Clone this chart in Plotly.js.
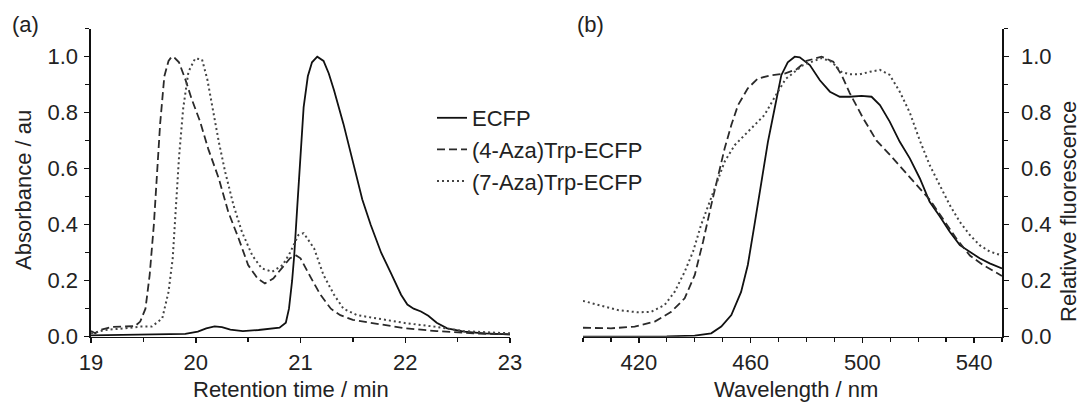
<!DOCTYPE html>
<html>
<head>
<meta charset="utf-8">
<script src="https://cdn.plot.ly/plotly-3.0.1.min.js"></script>
<style>html,body{margin:0;padding:0;background:#fff;}#chart{width:1084px;height:406px;}</style>
</head>
<body>
<div id="chart"></div>
<script>
// ---- Panel (a): retention time (min) vs absorbance ----
const ecfpTime = [19.0, 19.3, 19.6, 19.9, 20.02, 20.1, 20.18, 20.25, 20.33, 20.45, 20.6, 20.72, 20.8, 20.86, 20.89, 20.92, 20.94, 20.97, 21.0, 21.03, 21.07, 21.11, 21.16, 21.22, 21.27, 21.32, 21.41, 21.51, 21.59, 21.67, 21.77, 21.86, 21.96, 22.02, 22.08, 22.15, 22.22, 22.3, 22.4, 22.56, 22.75, 23.0];
const ecfpAbs  = [0.005, 0.006, 0.007, 0.01, 0.018, 0.03, 0.037, 0.034, 0.025, 0.02, 0.024, 0.028, 0.032, 0.05, 0.1, 0.2, 0.29, 0.47, 0.66, 0.82, 0.93, 0.98, 1.0, 0.985, 0.94, 0.88, 0.76, 0.61, 0.49, 0.40, 0.30, 0.23, 0.15, 0.115, 0.1, 0.09, 0.075, 0.05, 0.03, 0.018, 0.012, 0.008];

const aza4Time = [19.0, 19.04, 19.1, 19.2, 19.3, 19.42, 19.47, 19.52, 19.56, 19.6, 19.63, 19.66, 19.7, 19.74, 19.77, 19.8, 19.84, 19.9, 19.96, 20.04, 20.12, 20.22, 20.31, 20.41, 20.5, 20.59, 20.66, 20.74, 20.82, 20.9, 20.96, 21.0, 21.1, 21.19, 21.29, 21.38, 21.5, 21.7, 22.0, 22.3, 22.65, 23.0];
const aza4Abs  = [0.02, 0.012, 0.025, 0.035, 0.036, 0.038, 0.054, 0.1, 0.22, 0.4, 0.58, 0.76, 0.93, 0.985, 1.0, 0.995, 0.98, 0.92, 0.85, 0.77, 0.67, 0.565, 0.446, 0.35, 0.256, 0.208, 0.19, 0.208, 0.244, 0.28, 0.29, 0.28, 0.21, 0.15, 0.1, 0.077, 0.06, 0.048, 0.03, 0.02, 0.012, 0.008];

const aza7Time = [19.0, 19.13, 19.33, 19.47, 19.58, 19.68, 19.74, 19.78, 19.81, 19.84, 19.88, 19.93, 19.995, 20.06, 20.11, 20.16, 20.22, 20.28, 20.36, 20.44, 20.54, 20.63, 20.73, 20.83, 20.9, 20.98, 21.03, 21.13, 21.22, 21.32, 21.41, 21.54, 21.73, 22.01, 22.28, 22.56, 22.82, 23.0];
const aza7Abs  = [0.012, 0.024, 0.03, 0.036, 0.036, 0.065, 0.16, 0.28, 0.46, 0.64, 0.815, 0.946, 0.994, 0.99, 0.92, 0.815, 0.696, 0.59, 0.47, 0.375, 0.29, 0.244, 0.232, 0.256, 0.3, 0.363, 0.37, 0.315, 0.22, 0.15, 0.1, 0.077, 0.065, 0.048, 0.036, 0.02, 0.015, 0.012];

// ---- Panel (b): wavelength (nm) vs relative fluorescence ----
const ecfpNm  = [400, 410, 420, 430, 440, 445.9, 449.5, 453.1, 456.6, 459, 461.4, 463.8, 466.2, 468.6, 471, 473.3, 475.8, 477.6, 481.2, 484.8, 488.4, 491.9, 495.5, 499.7, 503.3, 506.3, 509.8, 513.4, 517, 520.6, 524.1, 527.7, 531.3, 534.9, 538.5, 542, 545.6, 550];
const ecfpFl  = [0, 0, 0, 0.001, 0.004, 0.012, 0.036, 0.077, 0.16, 0.256, 0.4, 0.54, 0.696, 0.815, 0.934, 0.98, 1.0, 0.998, 0.97, 0.916, 0.875, 0.857, 0.857, 0.86, 0.857, 0.827, 0.768, 0.696, 0.637, 0.565, 0.482, 0.43, 0.375, 0.327, 0.304, 0.28, 0.262, 0.244];

const aza4Nm  = [400, 410, 418.5, 425.7, 431.6, 436.4, 440, 443, 445.9, 448.3, 450.7, 453.1, 455.5, 459, 462.6, 467.4, 472.2, 476.5, 480, 485.4, 489.6, 492.6, 495.5, 500.3, 505.1, 509.8, 514.6, 519.4, 524.1, 528.9, 533.7, 538.5, 543.2, 550];
const aza4Fl  = [0.032, 0.03, 0.036, 0.054, 0.089, 0.137, 0.22, 0.34, 0.47, 0.577, 0.672, 0.756, 0.827, 0.887, 0.922, 0.934, 0.94, 0.955, 0.985, 1.0, 0.982, 0.934, 0.87, 0.78, 0.7, 0.65, 0.595, 0.54, 0.49, 0.42, 0.35, 0.29, 0.256, 0.217];

const aza7Nm  = [400, 405.4, 412.5, 419.7, 424.4, 429.2, 432.8, 436.4, 439.4, 442.3, 445.3, 447.7, 450.7, 454.3, 457.9, 461.4, 465, 468.3, 472.5, 478.8, 485.4, 489, 492.5, 495.5, 499.1, 502.7, 506.3, 509.8, 513.4, 517, 520.6, 524.1, 527.7, 531.3, 534.9, 538.5, 542, 545.6, 550];
const aza7Fl  = [0.128, 0.113, 0.095, 0.087, 0.089, 0.113, 0.16, 0.232, 0.304, 0.4, 0.482, 0.541, 0.625, 0.684, 0.72, 0.756, 0.792, 0.85, 0.92, 0.97, 0.995, 0.982, 0.946, 0.937, 0.937, 0.946, 0.953, 0.935, 0.875, 0.8, 0.7, 0.613, 0.542, 0.47, 0.41, 0.363, 0.327, 0.304, 0.29];

const seriesNames = ["ECFP", "(4-Aza)Trp-ECFP", "(7-Aza)Trp-ECFP"];
const xTitleA = "Retention time / min";
const yTitleA = "Absorbance / au";
const xTitleB = "Wavelength / nm";
const yTitleB = "Relativve fluorescence";

const W = 1084, H = 406;
const FONT = "Liberation Sans, Arial, Helvetica, sans-serif";
const TXT = "#222";

const styles = [
  {color: "#111", width: 1.8, dash: "solid"},
  {color: "#2a2a2a", width: 1.8, dash: "8px,4px"},
  {color: "#444", width: 2.0, dash: "2px,3px"}
];

const traces = [
  {x: ecfpTime, y: ecfpAbs, name: seriesNames[0], legendgroup: "g1", xaxis: "x", yaxis: "y", line: styles[0]},
  {x: aza4Time, y: aza4Abs, name: seriesNames[1], legendgroup: "g2", xaxis: "x", yaxis: "y", line: styles[1]},
  {x: aza7Time, y: aza7Abs, name: seriesNames[2], legendgroup: "g3", xaxis: "x", yaxis: "y", line: styles[2]},
  {x: ecfpNm, y: ecfpFl, name: seriesNames[0], legendgroup: "g1", showlegend: false, xaxis: "x2", yaxis: "y2", line: styles[0]},
  {x: aza4Nm, y: aza4Fl, name: seriesNames[1], legendgroup: "g2", showlegend: false, xaxis: "x2", yaxis: "y2", line: styles[1]},
  {x: aza7Nm, y: aza7Fl, name: seriesNames[2], legendgroup: "g3", showlegend: false, xaxis: "x2", yaxis: "y2", line: styles[2]}
].map(t => Object.assign({type: "scatter", mode: "lines", hoverinfo: "skip"}, t));

const px = v => v / W;
const py = v => 1 - v / H;

const axisCommon = {
  showline: true, linecolor: "#111", linewidth: 1.6,
  ticks: "outside", ticklen: 5, tickwidth: 1.5, tickcolor: "#111",
  showgrid: false, zeroline: false, fixedrange: true,
  tickfont: {family: FONT, size: 22, color: TXT}
};

const yDom = [py(336.7), py(28.7)];

const layout = {
  width: W, height: H,
  margin: {l: 0, r: 0, t: 0, b: 0},
  paper_bgcolor: "#fff", plot_bgcolor: "#fff",
  font: {family: FONT, size: 22, color: TXT},
  showlegend: true,
  legend: {
    x: px(432), y: py(97), xanchor: "left", yanchor: "top",
    bgcolor: "rgba(0,0,0,0)", borderwidth: 0,
    traceorder: "grouped", tracegroupgap: 0,
    font: {family: FONT, size: 22, color: TXT}
  },
  xaxis: Object.assign({}, axisCommon, {
    domain: [px(91), px(510)], range: [19, 23], anchor: "y",
    tick0: 19, dtick: 1, ticklabelstandoff: 0,
    minor: {ticks: "outside", dtick: 0.5, ticklen: 4, tickwidth: 1.3, tickcolor: "#111"}
  }),
  yaxis: Object.assign({}, axisCommon, {
    domain: yDom, range: [0, 1.1], anchor: "x",
    tick0: 0, dtick: 0.2, tickformat: ".1f", ticklabelstandoff: 2,
    minor: {ticks: "outside", dtick: 0.1, ticklen: 4, tickwidth: 1.3, tickcolor: "#111"}
  }),
  xaxis2: Object.assign({}, axisCommon, {
    domain: [px(583), px(1002)], range: [400, 550], anchor: "y2",
    tick0: 420, dtick: 40, ticklabelstandoff: 0,
    minor: {ticks: "outside", tick0: 400, dtick: 10, ticklen: 4, tickwidth: 1.3, tickcolor: "#111"}
  }),
  yaxis2: Object.assign({}, axisCommon, {
    domain: yDom, range: [0, 1.1], anchor: "x2", side: "right",
    tick0: 0, dtick: 0.2, tickformat: ".1f", ticklabelstandoff: 8,
    minor: {ticks: "outside", dtick: 0.1, ticklen: 4, tickwidth: 1.3, tickcolor: "#111"}
  }),
  annotations: [
    {text: "(a)", x: px(25), y: py(25), xref: "paper", yref: "paper", showarrow: false, xanchor: "center", yanchor: "middle", font: {family: FONT, size: 22, color: TXT}},
    {text: "(b)", x: px(590), y: py(25), xref: "paper", yref: "paper", showarrow: false, xanchor: "center", yanchor: "middle", font: {family: FONT, size: 22, color: TXT}},
    {text: yTitleA, x: px(23), y: py(190), xref: "paper", yref: "paper", showarrow: false, textangle: -90, xanchor: "center", yanchor: "middle", font: {family: FONT, size: 22, color: TXT}},
    {text: yTitleB, x: px(1068), y: py(212), xref: "paper", yref: "paper", showarrow: false, textangle: -90, xanchor: "center", yanchor: "middle", font: {family: FONT, size: 22, color: TXT}},
    {text: xTitleA, x: px(291), y: py(389), xref: "paper", yref: "paper", showarrow: false, xanchor: "center", yanchor: "middle", font: {family: FONT, size: 22, color: TXT}},
    {text: xTitleB, x: px(796), y: py(389), xref: "paper", yref: "paper", showarrow: false, xanchor: "center", yanchor: "middle", font: {family: FONT, size: 22, color: TXT}}
  ]
};

Plotly.newPlot("chart", traces, layout, {staticPlot: true, displayModeBar: false});
</script>
</body>
</html>
